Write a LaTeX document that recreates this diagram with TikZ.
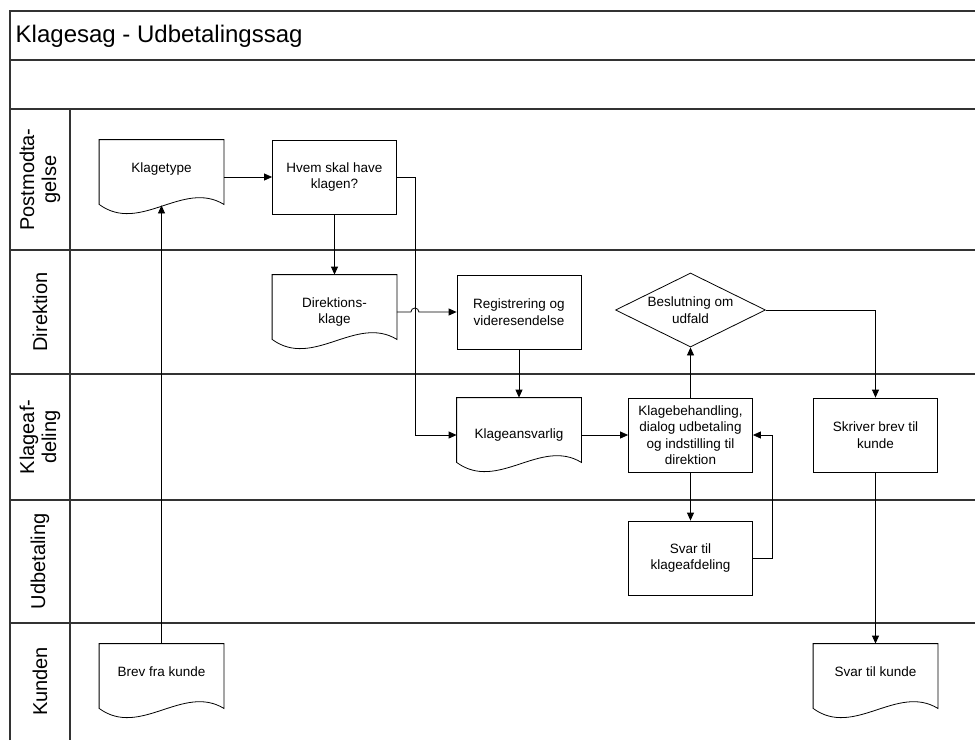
\documentclass[tikz,border=0pt]{standalone}
\usepackage{fontspec}
\setmainfont{Liberation Sans}
\usetikzlibrary{shapes.geometric,arrows.meta,calc}

\newcommand{\boxfont}{\fontsize{13.5}{16.5}\selectfont}
\newcommand{\lanefont}{\fontsize{20}{22}\selectfont}
\newcommand{\titlefont}{\fontsize{24}{28}\selectfont}

\tikzset{
  lane/.style={draw=black!80, line width=1.3pt},
  box/.style={shape=rectangle, draw, line width=0.8pt, minimum width=124pt,
    minimum height=74pt, inner sep=2pt, align=center, font=\boxfont},
  doc/.style={box, draw=none},
  raised/.style={text depth=19pt},
  lanelabel/.style={rotate=90, align=center, font=\lanefont},
}

\begin{document}
\begin{tikzpicture}[x=1pt, y=1pt, line width=0.8pt,
  >={Triangle[length=8pt,width=7pt]}]
\useasboundingbox (0,0) rectangle (975,-740);

% swimlanes
\draw[lane] (10,-740) -- (10,-11) -- (975,-11);
\foreach \y in {60,109,250,374,500,623}
  \draw[lane] (10,-\y) -- (975,-\y);
\draw[lane] (70,-109) -- (70,-740);

\node[anchor=west, font=\titlefont] (title) at (12,-36) {Klagesag - Udbetalingssag};
\node[lanelabel] (post) at (40,-179.5) {Postmodta-\\gelse};
\node[lanelabel] (direktion) at (40,-312) {Direktion};
\node[lanelabel] (klageafd) at (40,-437) {Klageaf-\\deling};
\node[lanelabel] (udbetaling) at (40,-561.5) {Udbetaling};
\node[lanelabel] (kunden) at (40,-681.5) {Kunden};

% steps
\node[doc, raised] (klagetype) at (161.5,-177) {Klagetype};
\node[box, right of=klagetype, node distance=173pt] (hvem) {Hvem skal have\\klagen?};
\node[doc, below of=hvem, node distance=135pt] (direktionsklage) {Direktions-\\klage};
\node[box, right of=direktionsklage, node distance=184.5pt] (registrering) {Registrering og\\videresendelse};
\node[doc, below of=registrering, node distance=123pt] (klageansvarlig) {Klageansvarlig};
\node[box, right of=klageansvarlig, node distance=171.5pt] (behandling) {Klagebehandling,\\dialog udbetaling\\og indstilling til\\direktion};
\node[shape=diamond, draw, aspect=2, inner sep=0pt, minimum width=150pt,
  minimum height=74pt, align=center, font=\boxfont,
  above of=behandling, node distance=125pt] (beslutning) {Beslutning om\\udfald};
\node[box, right of=behandling, node distance=185pt] (skriver) {Skriver brev til\\kunde};
\node[box, below of=behandling, node distance=123pt] (svarklage) {Svar til\\klageafdeling};
\node[doc, raised, below of=klagetype, node distance=504pt] (brev) {Brev fra kunde};
\node[doc, raised, below of=skriver, node distance=246pt] (svarkunde) {Svar til kunde};

% document outlines
\foreach \d in {klagetype,direktionsklage,klageansvarlig,brev,svarkunde}
  \draw (\d.north west) -- (\d.north east) -- ([yshift=10pt]\d.south east)
    .. controls +(-41,25) and +(41,-30) .. ([yshift=10pt]\d.south west) -- cycle;

\coordinate (hvemjog) at ($(hvem.east)+(18,0)$);
\coordinate (hop) at (hvemjog |- direktionsklage.east);

\draw[->] (brev) -- ([yshift=9pt]klagetype.south);
\draw[->] (klagetype) -- (hvem);
\draw[->] (hvem.east) -- (hvemjog) |- (klageansvarlig.west);
\draw[->] (hvem) -- (direktionsklage);
\draw[->] (direktionsklage.east) -- ([xshift=-4pt]hop)
  arc[start angle=180, end angle=0, radius=4pt] -- (registrering.west);
\draw[->] (registrering) -- (klageansvarlig);
\draw[->] (klageansvarlig) -- (behandling);
\draw[->] (behandling) -- (beslutning);
\draw[->] (beslutning.east) -| (skriver.north);
\draw[->] (behandling) -- (svarklage);
\draw[->] (svarklage.east) -- ++(19,0) |- (behandling.east);
\draw[->] (skriver) -- (svarkunde);
\end{tikzpicture}
\end{document}
